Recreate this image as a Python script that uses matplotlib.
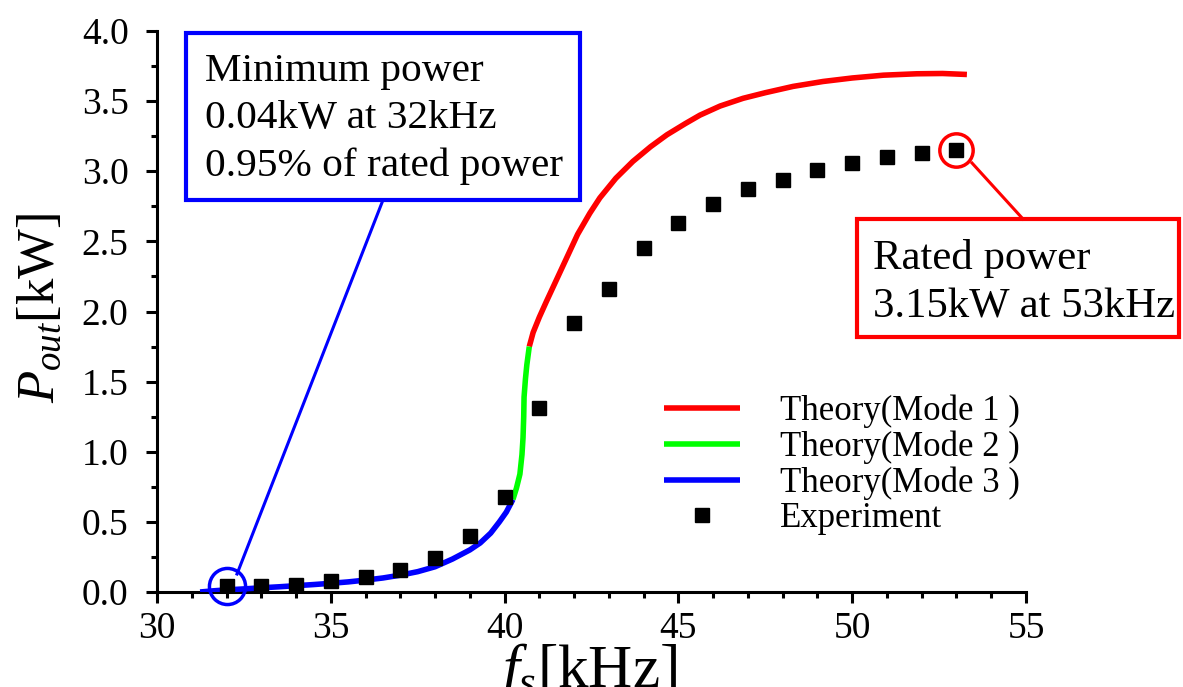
import matplotlib
matplotlib.use("Agg")
import matplotlib.pyplot as plt
from matplotlib.patches import Rectangle
from matplotlib.ticker import MultipleLocator, FormatStrFormatter

plt.rcParams['font.family'] = ['Liberation Serif', 'DejaVu Serif']
plt.rcParams['mathtext.fontset'] = 'custom'
plt.rcParams['mathtext.rm'] = 'Liberation Serif'
plt.rcParams['mathtext.it'] = 'Liberation Serif:italic'
plt.rcParams['mathtext.bf'] = 'Liberation Serif:bold'

# ---- data ----
exp_f = [32, 33, 34, 35, 36, 37, 38, 39, 40, 41, 42, 43, 44, 45, 46, 47, 48, 49, 50, 51, 52, 53]
exp_p = [0.04, 0.045, 0.05, 0.08, 0.11, 0.16, 0.24, 0.40, 0.68, 1.31, 1.92, 2.16, 2.45, 2.63,
         2.77, 2.87, 2.94, 3.01, 3.06, 3.10, 3.13, 3.15]

mode3_f = [31.24, 31.6, 32.0, 32.5, 33.0, 33.5, 34.0, 34.5, 35.0, 35.5, 36.0, 36.5, 37.0,
           37.5, 38.0, 38.5, 39.0, 39.3, 39.6, 39.85, 40.05, 40.24]
mode3_p = [0.0, 0.008, 0.015, 0.022, 0.03, 0.037, 0.045, 0.053, 0.062, 0.072, 0.085, 0.10,
           0.12, 0.145, 0.18, 0.235, 0.30, 0.35, 0.42, 0.50, 0.57, 0.66]

mode2_f = [40.24, 40.34, 40.44, 40.50, 40.53, 40.55, 40.56, 40.60, 40.64, 40.71]
mode2_p = [0.66, 0.74, 0.84, 0.98, 1.10, 1.25, 1.39, 1.52, 1.62, 1.75]

mode1_f = [40.71, 40.82, 41.0, 41.2, 41.5, 41.8, 42.1, 42.45, 42.74, 43.2, 43.69, 44.2, 44.67,
           45.2, 45.62, 46.2, 46.86, 47.5, 48.3, 49.16, 50.0, 50.9, 51.86, 52.6, 53.3]
mode1_p = [1.75, 1.85, 1.96, 2.07, 2.23, 2.39, 2.55, 2.70, 2.81, 2.95, 3.07, 3.175, 3.26,
           3.34, 3.40, 3.465, 3.52, 3.56, 3.605, 3.64, 3.665, 3.685, 3.695, 3.697, 3.69]

labels = ['Theory(Mode 1 )', 'Theory(Mode 2 )', 'Theory(Mode 3 )', 'Experiment']
min_text = "Minimum power\n0.04kW at 32kHz\n0.95% of rated power"
rated_text = "Rated power\n3.15kW at 53kHz"
min_pt = (32, 0.04)
rated_pt = (53, 3.15)

# ---- figure ----
W, H = 1183, 687
fig = plt.figure(figsize=(W / 100, H / 100), dpi=100)
ax = fig.add_axes([157 / W, 1 - 592 / H, (1026 - 157) / W, (592 - 31) / H])

lw = 4.0
l1, = ax.plot(mode1_f, mode1_p, color='#ff0000', lw=lw, solid_capstyle='butt', zorder=3)
l2, = ax.plot(mode2_f, mode2_p, color='#00ff00', lw=lw, solid_capstyle='butt', zorder=3)
l3, = ax.plot(mode3_f, mode3_p, color='#0000ff', lw=lw, solid_capstyle='butt', zorder=3)
le, = ax.plot(exp_f, exp_p, ls='none', marker='s', ms=9.5, color='black', zorder=4)

ax.set_xlim(30, 55)
ax.set_ylim(0, 4)
ax.xaxis.set_major_locator(MultipleLocator(5))
ax.xaxis.set_minor_locator(MultipleLocator(1))
ax.yaxis.set_major_locator(MultipleLocator(0.5))
ax.yaxis.set_minor_locator(MultipleLocator(0.25))
ax.xaxis.set_major_formatter(FormatStrFormatter('%d'))
ax.yaxis.set_major_formatter(FormatStrFormatter('%.1f'))
for s in ['top', 'right']:
    ax.spines[s].set_visible(False)
for s in ['left', 'bottom']:
    ax.spines[s].set_linewidth(2.2)
ax.tick_params(which='major', direction='out', length=8, width=2.2, labelsize=27)
ax.tick_params(which='minor', direction='out', length=4.5, width=2.2)
ax.tick_params(axis='y', which='major', pad=12.5)
ax.tick_params(axis='x', which='major', pad=6)

ax.set_ylabel(r'$P_{out}$[kW]', fontsize=38)
ax.yaxis.set_label_coords(-0.106, 0.506)
ax.set_xlabel(r'$f_s$[kHz]', fontsize=44, va='top')
ax.xaxis.set_label_coords(0.498, -0.088)

leg = ax.legend([l1, l2, l3, le], labels, loc='upper left', bbox_to_anchor=(0.583, 0.352),
                frameon=False, fontsize=25, borderpad=0, borderaxespad=0, labelspacing=0.07,
                handlelength=2.2, handletextpad=1.15, numpoints=1)

# ---- annotations ----
def px2d(px, py):
    return 30 + (px - 157) / 34.76, (592 - py) / 140.25

# minimum power
x0, y0 = px2d(186, 200)
x1, y1 = px2d(580, 33)
ax.add_patch(Rectangle((x0, y0), x1 - x0, y1 - y0, fill=False, ec='#0000ff', lw=3,
                       clip_on=False, zorder=5))
tx, ty = px2d(205, 119)
ax.text(tx, ty, min_text, fontsize=29.7, ha='left', va='center', linespacing=1.35, zorder=6)
ax.plot(*min_pt, marker='o', ms=26, mfc='none', mec='#0000ff', mew=2.5, zorder=5, clip_on=False)
a, b = px2d(237, 574)
c, d = px2d(383, 200)
ax.plot([a, c], [b, d], color='#0000ff', lw=2.2, zorder=5, clip_on=False)

# rated power
x0, y0 = px2d(857, 337)
x1, y1 = px2d(1179, 219)
ax.add_patch(Rectangle((x0, y0), x1 - x0, y1 - y0, fill=False, ec='#ff0000', lw=3,
                       clip_on=False, zorder=5))
tx, ty = px2d(873, 283)
ax.text(tx, ty, rated_text, fontsize=30.8, ha='left', va='center', linespacing=1.35, zorder=6)
ax.plot(*rated_pt, marker='o', ms=24, mfc='none', mec='#ff0000', mew=2.5, zorder=5, clip_on=False)
a, b = px2d(972, 163)
c, d = px2d(1023, 219)
ax.plot([a, c], [b, d], color='#ff0000', lw=2.2, zorder=5, clip_on=False)

fig.savefig('out.png', dpi=100)
